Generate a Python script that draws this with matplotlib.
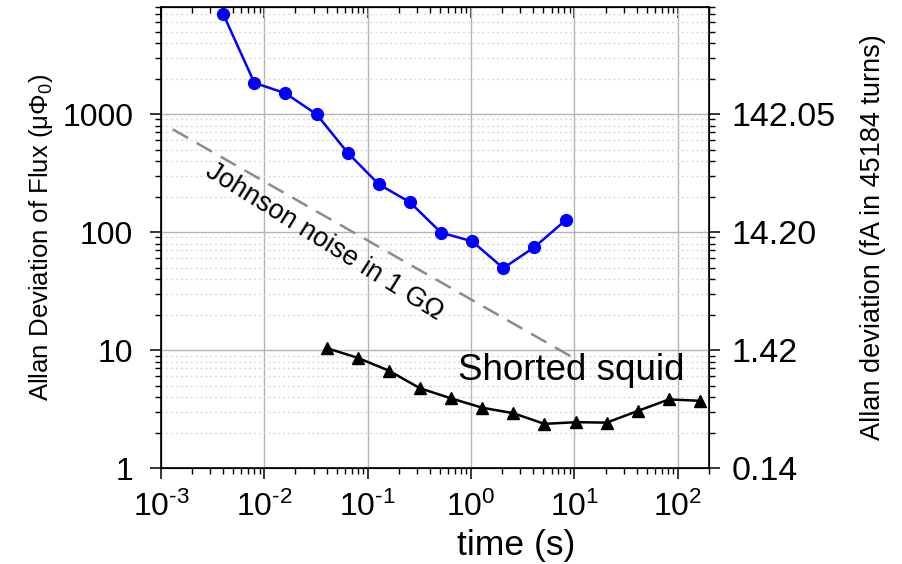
import matplotlib
matplotlib.use('Agg')
import matplotlib.pyplot as plt
from matplotlib.ticker import LogLocator, NullFormatter, FixedLocator

plt.rcParams['font.family'] = 'Liberation Sans'
plt.rcParams['mathtext.fontset'] = 'custom'
plt.rcParams['mathtext.rm'] = 'Liberation Sans'
plt.rcParams['mathtext.it'] = 'Liberation Sans:italic'

# SQUID flux readout (blue circles)
squid_t = [0.004, 0.008, 0.016, 0.032, 0.064, 0.128, 0.256, 0.512, 1.024, 2.048, 4.096, 8.192]
squid_adev = [7030, 1840, 1500, 995, 470, 254, 179, 99, 83.5, 49.5, 74.5, 126]

# shorted squid (black triangles)
shorted_t = [0.04, 0.08, 0.16, 0.32, 0.64, 1.28, 2.56, 5.12, 10.24, 20.48, 40.96, 81.92, 163.84]
shorted_adev = [10.4, 8.6, 6.7, 4.75, 3.9, 3.25, 2.92, 2.37, 2.45, 2.43, 3.05, 3.82, 3.72]

# Johnson noise in 1 GOhm reference line
johnson_t = [0.0013, 10]
johnson_adev = [742, 8.5]

x_ticks = [1e-3, 1e-2, 1e-1, 1e0, 1e1, 1e2]
x_tick_labels = [r'$\mathregular{10^{‐3}}$', r'$\mathregular{10^{‐2}}$', r'$\mathregular{10^{‐1}}$',
                 r'$\mathregular{10^{0}}$', r'$\mathregular{10^{1}}$', r'$\mathregular{10^{2}}$']
y_ticks = [1, 10, 100, 1000]
y_tick_labels = ['1', '10', '100', '1000']
right_tick_labels = ['0.14', '1.42', '14.20', '142.05']

fig = plt.figure(figsize=(9.02, 5.64), dpi=100)
ax = fig.add_axes([0.1785, 0.170, 0.6075, 0.8175])

ax.plot(johnson_t, johnson_adev, color='#8c8c8c', lw=1.8, ls=(0, (7, 4)), zorder=2)
ax.plot(squid_t, squid_adev, color='#0000ff', lw=1.8, marker='o', ms=8.5, zorder=3)
ax.plot(shorted_t, shorted_adev, color='black', lw=1.8, marker='^', ms=9, zorder=3)

ax.set_xscale('log')
ax.set_yscale('log')
ax.set_xlim(1e-3, 200)
ax.set_ylim(1, 8070)

ax.set_xticks(x_ticks)
ax.set_xticklabels(x_tick_labels, fontsize=23)
ax.set_yticks(y_ticks)
ax.set_yticklabels(y_tick_labels, fontsize=23)
ax.xaxis.set_minor_locator(LogLocator(base=10, subs=range(2, 10), numticks=20))
ax.yaxis.set_minor_locator(LogLocator(base=10, subs=range(2, 10), numticks=20))
ax.xaxis.set_minor_formatter(NullFormatter())
ax.yaxis.set_minor_formatter(NullFormatter())

ax.tick_params(which='major', direction='out', length=8, width=1.1, pad=9)
ax.tick_params(which='minor', direction='out', length=4, width=1.0)
ax.tick_params(axis='y', which='major', pad=12)

ax.grid(True, which='major', color='#b4b4b4', lw=1.0)
ax.grid(True, which='minor', axis='y', color='#dadada', lw=1.0, ls=(0, (1.5, 2)))
ax.set_axisbelow(True)
for s in ax.spines.values():
    s.set_linewidth(1.2)

# top axis ticks pointing inward
top = ax.secondary_xaxis('top')
top.set_xticks(x_ticks)
top.xaxis.set_minor_locator(LogLocator(base=10, subs=range(2, 10), numticks=20))
top.tick_params(which='major', direction='in', length=8, width=1.1, labeltop=False)
top.tick_params(which='minor', direction='in', length=4, width=1.0)
top.xaxis.set_minor_formatter(NullFormatter())
top.set_xticklabels([])

# right axis: same scale, labelled in fA
ax2 = ax.twinx()
ax2.set_yscale('log')
ax2.set_ylim(ax.get_ylim())
ax2.yaxis.set_major_locator(FixedLocator(y_ticks))
ax2.set_yticklabels(right_tick_labels, fontsize=24.5)
ax2.yaxis.set_minor_locator(LogLocator(base=10, subs=range(2, 10), numticks=20))
ax2.yaxis.set_minor_formatter(NullFormatter())
ax2.tick_params(which='major', direction='out', length=8, width=1.1, pad=8)
ax2.tick_params(which='minor', direction='out', length=4, width=1.0)

ax.set_xlabel('time (s)', fontsize=25.5)
ax.xaxis.set_label_coords(0.648, -0.132)
ax.set_ylabel('Allan Deviation of Flux (μΦ$_0$)', fontsize=18.5)
ax.yaxis.set_label_coords(-0.194, 0.5)
ax2.set_ylabel('Allan deviation (fA in 45184 turns)', fontsize=19.5)
ax2.yaxis.set_label_coords(1.276, 0.5)

ax.text(0.038, 82, 'Johnson noise in 1 GΩ', fontsize=19.5, rotation=-32,
        ha='center', va='center', rotation_mode='anchor')
ax.text(0.745, 5.57, 'Shorted squid', fontsize=26.5, ha='left', va='baseline')

plt.savefig('out.png', dpi=100)
